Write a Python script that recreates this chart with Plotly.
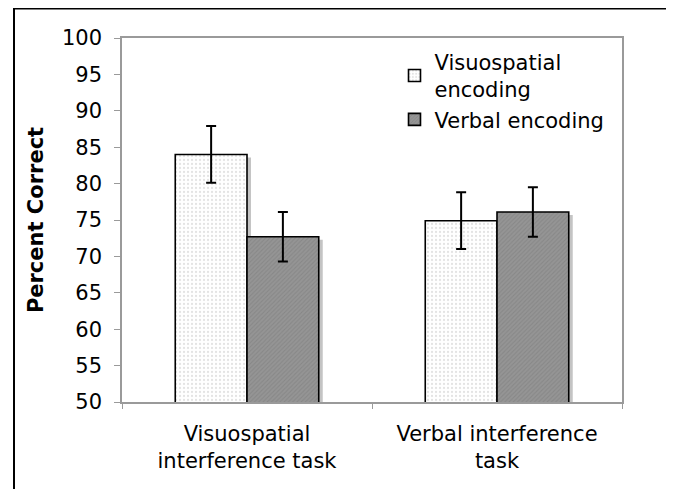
import plotly.graph_objects as go

categories = ["Visuospatial<br>interference task", "Verbal interference<br>task"]
series_names = ["Visuospatial<br>encoding", "Verbal encoding"]
visuo_vals = [84.0, 74.9]
visuo_err = [3.9, 3.9]
verbal_vals = [72.7, 76.1]
verbal_err = [3.4, 3.4]
y_ticks = [50, 55, 60, 65, 70, 75, 80, 85, 90, 95, 100]

FONT = "DejaVu Sans"
# page has an 8px body margin; figure sized to fit the 674x489 window
W, H = 666, 481
ML, MR, MT, MB = 114, 52, 30, 87
PW = W - ML - MR
PH = H - MT - MB

visuo_style = dict(color="white", line=dict(color="black", width=1.6),
                   pattern=dict(shape=".", fgcolor="#c8c8c8", bgcolor="white", size=4, solidity=0.25))
verbal_style = dict(color="#8e8e8e", line=dict(color="black", width=1.6),
                    pattern=dict(shape="/", fgcolor="#7a7a7a", bgcolor="#959595", size=3, solidity=0.35))
shadow_style = dict(color="#c4c4c4", line=dict(width=0))

fig = go.Figure()
for vals in (visuo_vals, verbal_vals):
    fig.add_trace(go.Bar(x=categories, y=vals, marker=shadow_style, showlegend=False,
                         hoverinfo="skip", xaxis="x", yaxis="y"))
fig.add_trace(go.Bar(x=categories, y=visuo_vals, name=series_names[0], marker=visuo_style,
                     error_y=dict(type="data", array=visuo_err, color="black", thickness=2, width=5),
                     xaxis="x2", yaxis="y2"))
fig.add_trace(go.Bar(x=categories, y=verbal_vals, name=series_names[1], marker=verbal_style,
                     error_y=dict(type="data", array=verbal_err, color="black", thickness=2, width=5),
                     xaxis="x2", yaxis="y2"))

ppu_y = PH / 50.0
ppu_x = PW / 2.0
dx = 4 / ppu_x
dy = 3 / ppu_y

axis_font = dict(family=FONT, size=21, color="black")
fig.update_layout(
    width=W, height=H,
    margin=dict(l=ML, r=MR, t=MT, b=MB),
    paper_bgcolor="white", plot_bgcolor="rgba(0,0,0,0)",
    barmode="group", bargap=0.426, bargroupgap=0,
    font=axis_font,
    xaxis=dict(range=[-0.5 - dx, 1.5 - dx], visible=False, fixedrange=True),
    yaxis=dict(range=[50 + dy, 100 + dy], visible=False, fixedrange=True),
    xaxis2=dict(overlaying="x", range=[-0.5, 1.5], showline=True, linecolor="#9a9a9a", linewidth=1.5,
                mirror=True, ticks="outside", tickson="boundaries", ticklen=5, tickcolor="#9a9a9a",
                tickfont=axis_font, showgrid=False, ticklabelstandoff=12),
    yaxis2=dict(overlaying="y", range=[50, 100], tickvals=y_ticks, showline=True, linecolor="#9a9a9a",
                linewidth=1.5, mirror=True, ticks="outside", ticklen=6, tickcolor="#9a9a9a",
                tickfont=axis_font, showgrid=False, zeroline=False, ticklabelstandoff=8,
                title=dict(text="<b>Percent Correct</b>", font=dict(family=FONT, size=21, color="black"),
                           standoff=13)),
    legend=dict(x=0.545, y=0.99, xanchor="left", yanchor="top", bgcolor="rgba(0,0,0,0)",
                font=dict(family=FONT, size=21, color="black"), tracegroupgap=0),
    shapes=[dict(type="rect", xref="paper", yref="paper",
                 x0=(6 - ML) / PW, x1=(662 - ML) / PW, y0=-0.3, y1=(PH + MT - 0.5) / PH,
                 line=dict(color="black", width=2), fillcolor="rgba(0,0,0,0)", layer="above")],
)

fig.write_html("out.html")
